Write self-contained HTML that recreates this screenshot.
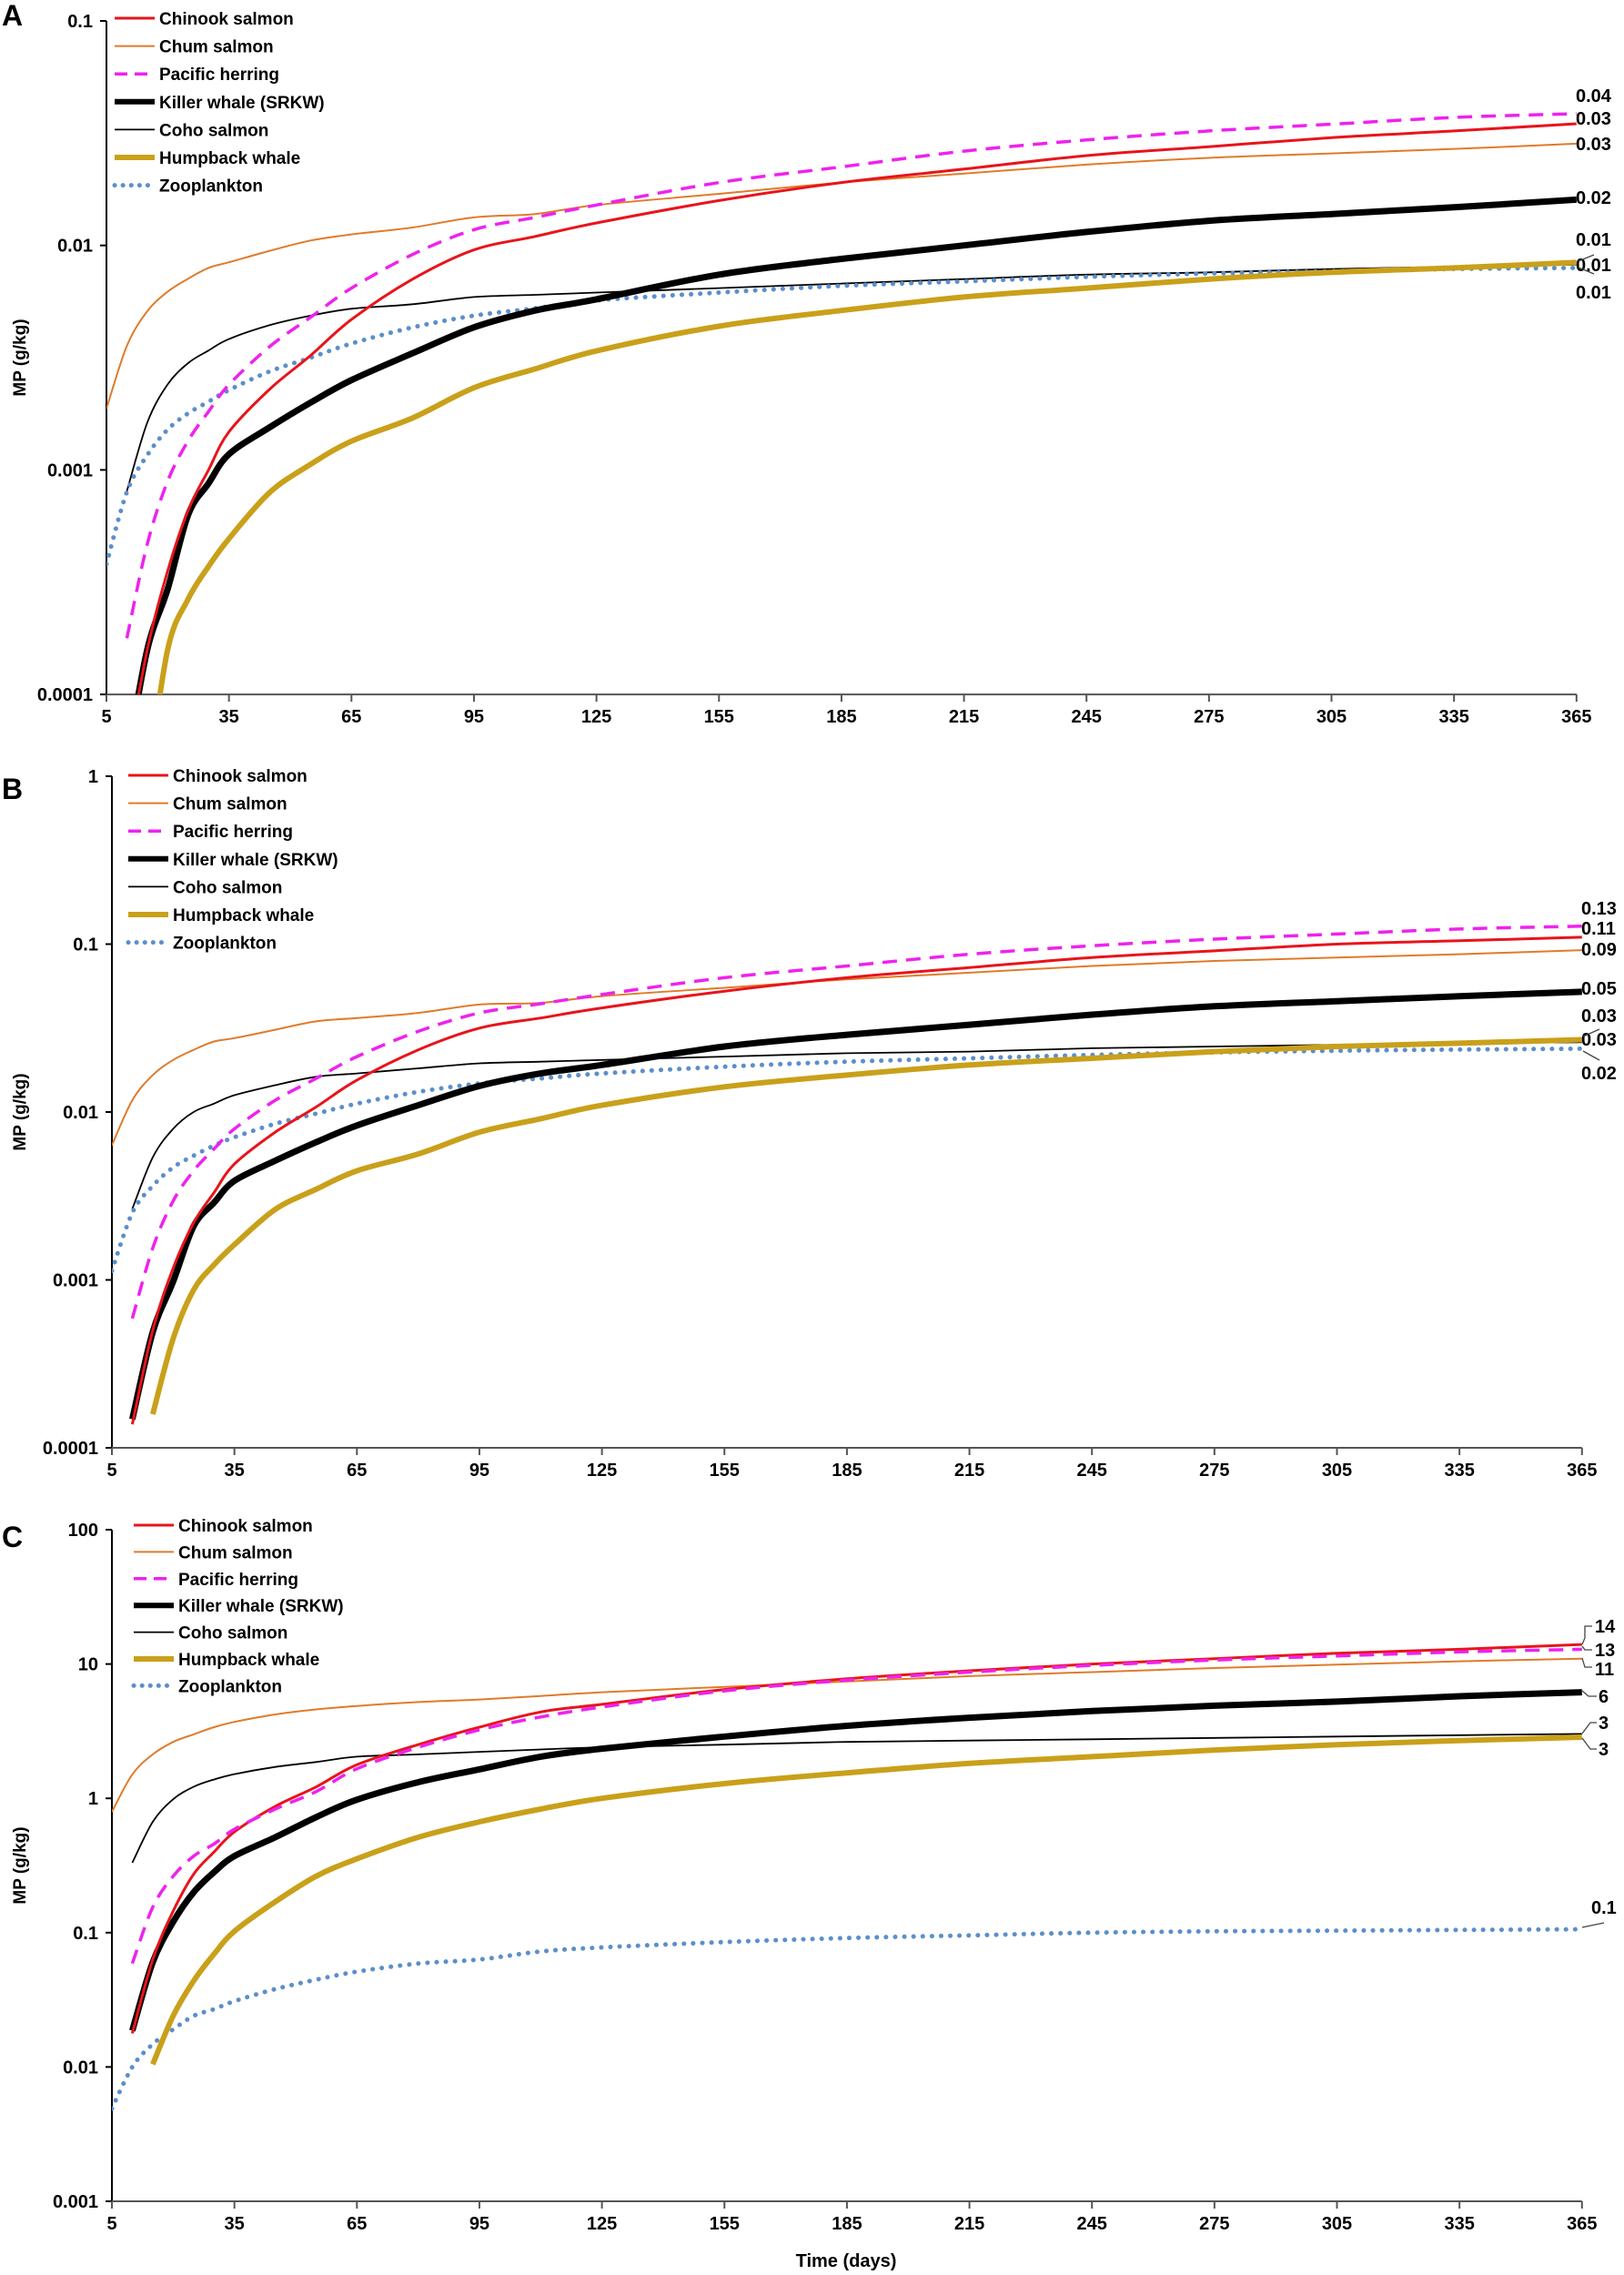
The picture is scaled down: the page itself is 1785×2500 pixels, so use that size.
<!DOCTYPE html>
<html><head><meta charset="utf-8"><style>
html,body{margin:0;padding:0;background:#fff;}
svg{display:block;font-family:"Liberation Sans",Arial,sans-serif;font-weight:bold;}
</style></head><body>
<svg id="chart" width="1785" height="2500" viewBox="0 0 1785 2500" xmlns="http://www.w3.org/2000/svg"></svg>
<script>
// ---------- data ----------
const days = [5,10,15,20,25,30,35,45,55,65,80,95,110,125,155,185,215,245,275,305,335,365];
const xTicks = [5,35,65,95,125,155,185,215,245,275,305,335,365];
const speciesNames = ["Chinook salmon","Chum salmon","Pacific herring","Killer whale (SRKW)","Coho salmon","Humpback whale","Zooplankton"];
// log10(MP g/kg) values per panel; null = no value
const aChinook  = [null,-4.3,-3.80,-3.45,-3.18,-3.00,-2.83,-2.64,-2.49,-2.33,-2.15,-2.02,-1.96,-1.90,-1.80,-1.72,-1.66,-1.60,-1.56,-1.52,-1.49,-1.458];
const aChum     = [-2.727,-2.448,-2.293,-2.206,-2.148,-2.10,-2.075,-2.024,-1.978,-1.951,-1.92,-1.875,-1.86,-1.82,-1.77,-1.72,-1.68,-1.64,-1.61,-1.59,-1.57,-1.547];
const aHerring  = [null,-3.75,-3.33,-3.05,-2.87,-2.74,-2.62,-2.45,-2.32,-2.19,-2.04,-1.93,-1.875,-1.82,-1.72,-1.65,-1.58,-1.53,-1.49,-1.46,-1.43,-1.413];
const aKiller   = [null,-4.3,-3.80,-3.53,-3.20,-3.06,-2.93,-2.81,-2.70,-2.60,-2.48,-2.365,-2.29,-2.24,-2.13,-2.06,-2.00,-1.94,-1.89,-1.86,-1.83,-1.796];
const aCoho     = [null,-3.095,-2.789,-2.619,-2.524,-2.468,-2.417,-2.355,-2.313,-2.282,-2.262,-2.23,-2.22,-2.21,-2.19,-2.17,-2.15,-2.13,-2.12,-2.105,-2.095,-2.086];
const aHumpback = [null,null,-4.4,-3.80,-3.575,-3.43,-3.306,-3.10,-2.975,-2.872,-2.768,-2.634,-2.55,-2.47,-2.36,-2.29,-2.23,-2.19,-2.15,-2.12,-2.10,-2.076];
const aZoo      = [-3.42,-3.099,-2.934,-2.82,-2.748,-2.696,-2.644,-2.561,-2.50,-2.437,-2.365,-2.313,-2.28,-2.245,-2.21,-2.18,-2.16,-2.14,-2.125,-2.115,-2.105,-2.10];

const bChinook  = [null,-3.86,-3.30,-2.93,-2.66,-2.48,-2.31,-2.12,-1.97,-1.81,-1.63,-1.50,-1.44,-1.38,-1.28,-1.20,-1.14,-1.08,-1.04,-1.00,-0.98,-0.959];
const bChum     = [-2.198,-1.93,-1.78,-1.69,-1.63,-1.58,-1.56,-1.51,-1.46,-1.44,-1.41,-1.36,-1.35,-1.31,-1.26,-1.21,-1.17,-1.13,-1.10,-1.08,-1.06,-1.036];
const bHerring  = [null,-3.23,-2.81,-2.53,-2.35,-2.22,-2.10,-1.93,-1.80,-1.67,-1.52,-1.41,-1.355,-1.30,-1.20,-1.13,-1.06,-1.01,-0.97,-0.94,-0.91,-0.893];
const bKiller   = [null,-3.83,-3.31,-3.01,-2.68,-2.54,-2.41,-2.29,-2.18,-2.08,-1.96,-1.845,-1.77,-1.72,-1.61,-1.54,-1.48,-1.42,-1.37,-1.34,-1.31,-1.284];
const bCoho     = [null,-2.577,-2.27,-2.10,-2.00,-1.95,-1.90,-1.84,-1.79,-1.77,-1.74,-1.71,-1.70,-1.69,-1.67,-1.65,-1.64,-1.62,-1.61,-1.60,-1.59,-1.585];
const bHumpback = [null,null,-3.80,-3.35,-3.06,-2.91,-2.79,-2.58,-2.46,-2.35,-2.25,-2.12,-2.04,-1.96,-1.85,-1.78,-1.72,-1.68,-1.64,-1.61,-1.59,-1.569];
const bZoo      = [-2.946,-2.60,-2.44,-2.33,-2.26,-2.20,-2.15,-2.07,-2.01,-1.95,-1.88,-1.83,-1.80,-1.77,-1.73,-1.70,-1.68,-1.66,-1.645,-1.635,-1.628,-1.623];

const cChinook  = [null,-1.75,-1.20,-0.84,-0.565,-0.40,-0.25,-0.06,0.085,0.25,0.40,0.53,0.643,0.70,0.81,0.89,0.95,1.00,1.04,1.08,1.11,1.146];
const cChum     = [-0.10,0.178,0.327,0.42,0.476,0.53,0.569,0.625,0.662,0.688,0.717,0.736,0.762,0.79,0.83,0.87,0.91,0.94,0.97,0.995,1.02,1.04];
const cHerring  = [null,-1.23,-0.81,-0.58,-0.43,-0.34,-0.23,-0.08,0.05,0.22,0.38,0.51,0.606,0.68,0.80,0.88,0.94,0.99,1.03,1.06,1.09,1.11];
const cKiller   = [null,-1.73,-1.22,-0.92,-0.70,-0.55,-0.43,-0.29,-0.14,-0.01,0.12,0.216,0.31,0.37,0.46,0.54,0.60,0.65,0.69,0.72,0.76,0.79];
const cCoho     = [null,-0.48,-0.175,-0.007,0.086,0.14,0.18,0.234,0.27,0.31,0.327,0.346,0.364,0.38,0.40,0.42,0.43,0.44,0.45,0.46,0.47,0.48];
const cHumpback = [null,null,-1.98,-1.62,-1.36,-1.16,-0.99,-0.77,-0.58,-0.45,-0.29,-0.175,-0.08,0.0,0.11,0.19,0.26,0.31,0.36,0.40,0.43,0.455];
const cZoo      = [-2.31,-2.0,-1.83,-1.72,-1.62,-1.57,-1.51,-1.42,-1.35,-1.29,-1.23,-1.20,-1.14,-1.11,-1.07,-1.04,-1.02,-1.0,-0.99,-0.985,-0.98,-0.975];

const aEndLabels = ["0.04","0.03","0.03","0.02","0.01","0.01","0.01"];
const bEndLabels = ["0.13","0.11","0.09","0.05","0.03","0.03","0.02"];
const cEndLabels = ["14","13","11","6","3","3","0.1"];
const aYTicks = ["0.1","0.01","0.001","0.0001"];
const bYTicks = ["1","0.1","0.01","0.001","0.0001"];
const cYTicks = ["100","10","1","0.1","0.01","0.001"];

// ---------- drawing ----------
const NS="http://www.w3.org/2000/svg";
const svg=document.getElementById('chart');
function mk(tag,attrs,parent){const e=document.createElementNS(NS,tag);for(const k in attrs)e.setAttribute(k,attrs[k]);(parent||svg).appendChild(e);return e;}

const styles=[
 {color:"#e8141b",w:3,dash:null},
 {color:"#e07b2a",w:2,dash:null},
 {color:"#ee22ee",w:3.5,dash:"16 10"},
 {color:"#000",w:7,dash:null},
 {color:"#000",w:1.8,dash:null},
 {color:"#c9a01a",w:6,dash:null},
 {color:"#5b8fcb",w:5,dash:"0.1 10",cap:"round"}
];

function smoothPath(pts){
  if(pts.length<2)return '';
  let d='M'+pts[0][0].toFixed(1)+','+pts[0][1].toFixed(1);
  for(let i=0;i<pts.length-1;i++){
    const p0=pts[Math.max(0,i-1)],p1=pts[i],p2=pts[i+1],p3=pts[Math.min(pts.length-1,i+2)];
    const c1x=p1[0]+(p2[0]-p0[0])/6,c1y=p1[1]+(p2[1]-p0[1])/6;
    const c2x=p2[0]-(p3[0]-p1[0])/6,c2y=p2[1]-(p3[1]-p1[1])/6;
    d+='C'+c1x.toFixed(1)+','+c1y.toFixed(1)+' '+c2x.toFixed(1)+','+c2y.toFixed(1)+' '+p2[0].toFixed(1)+','+p2[1].toFixed(1);
  }
  return d;
}

function panel(p){
  const g=mk('g',{});
  
  
  const pxDay=134.65/30;
  const xS=d=>p.x0+(d-5)*pxDay;
  const yS=l=>p.yTop+(p.topLog-l)*p.dec;
  const xEnd=xS(365), yBot=yS(p.topLog-p.nDec);
  const lt=mk('text',{x:2,y:p.letterY,'font-size':32,fill:'#000'},g);lt.textContent=p.letter;
  
  const ya=mk('line',{x1:p.x0,y1:p.yTop,x2:p.x0,y2:yBot,stroke:'#000','stroke-width':2},g);
  
  const xa=mk('line',{x1:p.x0,y1:yBot,x2:xEnd,y2:yBot,stroke:'#555','stroke-width':2},g);
  
  p.yTicks.forEach((t,i)=>{
    const y=yS(p.topLog-i);
    mk('line',{x1:p.x0-7,y1:y,x2:p.x0,y2:y,stroke:'#000','stroke-width':2},g);
    const tx=mk('text',{x:p.x0-15,y:y+7,'font-size':20,'text-anchor':'end',fill:'#000'},g);tx.textContent=t;
    
  });
  xTicks.forEach(d=>{
    const x=xS(d);
    mk('line',{x1:x,y1:yBot,x2:x,y2:yBot+8,stroke:'#555','stroke-width':2},g);
    const tx=mk('text',{x:x,y:yBot+31,'font-size':20,'text-anchor':'middle',fill:'#000'},g);tx.textContent=d;
    
  });
  const yt=mk('text',{x:0,y:0,'font-size':19,'text-anchor':'middle',fill:'#000',transform:`translate(28,${(p.yTop+yBot)/2}) rotate(-90)`},g);
  yt.textContent='MP (g/kg)';
  const cp=mk('clipPath',{id:'clip'+p.letter},g);
  mk('rect',{x:p.x0,y:p.yTop-5,width:xEnd-p.x0+5,height:yBot-p.yTop+5},cp);
  const order=[1,4,6,5,3,0,2];
  order.forEach(si=>{
    const vals=p.series[si], st=styles[si];
    const pts=[];
    days.forEach((dy,i)=>{ if(vals[i]===null)return; pts.push([xS(dy),yS(vals[i])]); });
    const path=mk('path',{d:smoothPath(pts),fill:'none',stroke:st.color,'stroke-width':st.w,'stroke-linejoin':'round','stroke-linecap':st.cap||'butt','clip-path':`url(#clip${p.letter})`},g);
    if(st.dash)path.setAttribute('stroke-dasharray',st.dash);
    
    
  });
  speciesNames.forEach((n,i)=>{
    const y=p.legY+i*p.legGap, st=styles[i];
    const ln=mk('line',{x1:p.legX,y1:y,x2:p.legX+44,y2:y,stroke:st.color,'stroke-width':Math.min(st.w,6),'stroke-linecap':st.cap||'butt'},g);
    if(st.dash)ln.setAttribute('stroke-dasharray',st.dash==='16 10'?'14 8':'0.1 9');
    const tx=mk('text',{x:p.legX+49,y:y+7,'font-size':19,fill:'#000'},g);tx.textContent=n;
    
  });
  p.endLabels.forEach((t,i)=>{
    const lp=p.endPos[i];
    const tx=mk('text',{x:lp[0],y:lp[1]+7,'font-size':20,fill:'#000'},g);tx.textContent=t;
    
  });
  (p.leaders||[]).forEach(l=>mk('polyline',{points:l,fill:'none',stroke:'#444','stroke-width':1.3},g));
}

panel({letter:'A',letterY:28,x0:117,yTop:23,topLog:-1,nDec:3,dec:246.7,yTicks:aYTicks,
  series:[aChinook,aChum,aHerring,aKiller,aCoho,aHumpback,aZoo],legX:126,legY:20,legGap:30.6,
  endLabels:aEndLabels,endPos:[[1732,105],[1732,130],[1732,158],[1732,217],[1732,263],[1732,291],[1732,321]],
  leaders:["1735,287 1752,280","1735,294 1752,301"]});
panel({letter:'B',letterY:878,x0:123,yTop:853,topLog:0,nDec:4,dec:184.5,yTicks:bYTicks,
  series:[bChinook,bChum,bHerring,bKiller,bCoho,bHumpback,bZoo],legX:141,legY:852,legGap:30.6,
  endLabels:bEndLabels,endPos:[[1738,998],[1738,1020],[1738,1043],[1738,1086],[1738,1116],[1738,1142],[1738,1179]],
  leaders:["1740,1139 1758,1131","1740,1155 1758,1165"]});
panel({letter:'C',letterY:1700,x0:123,yTop:1681,topLog:2,nDec:5,dec:147.6,yTicks:cYTicks,
  series:[cChinook,cChum,cHerring,cKiller,cCoho,cHumpback,cZoo],legX:147,legY:1676,legGap:29.4,
  endLabels:cEndLabels,endPos:[[1753,1787],[1753,1813],[1753,1834],[1757,1864],[1757,1893],[1757,1922],[1749,2096]],
  leaders:["1739,1807 1742,1800 1742,1787 1750,1787","1739,1809 1742,1813 1750,1813","1739,1822 1742,1832 1750,1832","1739,1858 1746,1864 1755,1864","1739,1905 1748,1893 1755,1893","1739,1910 1748,1922 1755,1922","1739,2118 1763,2113"]});

const xt=mk('text',{x:930,y:2491,'font-size':20,'text-anchor':'middle',fill:'#000'});
xt.textContent='Time (days)';


</script>
</body></html>
